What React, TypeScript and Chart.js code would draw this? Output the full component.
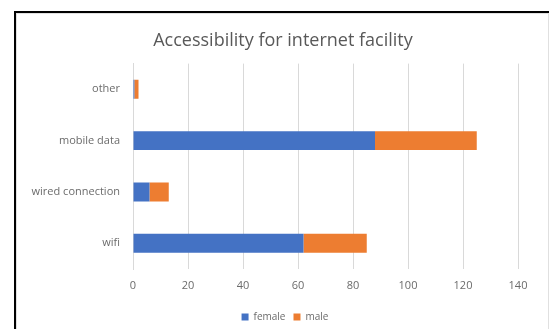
import React, { useEffect, useRef } from "react";
import { Chart, registerables } from "chart.js";

Chart.register(...registerables);

const categories = ["other", "mobile data", "wired connection", "wifi"];
const femaleValues = [0.5, 88, 6, 62];
const maleValues = [1.5, 37, 7, 23];
const xTicks = [0, 20, 40, 60, 80, 100, 120, 140];
const titleText = "Accessibility for internet facility";

const FONT = "'Open Sans', 'Liberation Sans', sans-serif";
const GRAY = "#6b6b6b";

const shiftBlocks = {
  id: "shiftBlocks",
  afterLayout(chart: any) {
    const t = chart.titleBlock;
    if (t) {
      t.left += 24;
      t.right += 24;
    }
    const l = chart.legend;
    if (l) {
      l.left += 26;
      l.right += 26;
      l.top += 7;
      l.bottom += 7;
    }
  },
};

export default function App() {
  const ref = useRef<HTMLCanvasElement | null>(null);

  useEffect(() => {
    if (!ref.current) return;
    const chart = new Chart(ref.current, {
      type: "bar",
      data: {
        labels: categories,
        datasets: [
          { label: "female", data: femaleValues, backgroundColor: "#4472C4", categoryPercentage: 1, barPercentage: 0.37 },
          { label: "male", data: maleValues, backgroundColor: "#ED7D31", categoryPercentage: 1, barPercentage: 0.37 },
        ],
      },
      options: {
        indexAxis: "y",
        responsive: false,
        animation: false,
        layout: { padding: { left: 0, right: 31, top: 0, bottom: 4 } },
        plugins: {
          title: {
            display: true,
            text: titleText,
            color: "#595959",
            font: { family: FONT, size: 18, weight: "normal" },
            padding: { top: 30, bottom: 12 },
          },
          legend: {
            position: "bottom",
            labels: {
              color: GRAY,
              font: { family: FONT, size: 10 },
              boxWidth: 7,
              boxHeight: 7,
              padding: 8,
            },
          },
          tooltip: { enabled: false },
        },
        scales: {
          x: {
            stacked: true,
            min: 0,
            max: 140,
            afterBuildTicks: (s: any) => {
              s.ticks = xTicks.map((v) => ({ value: v }));
            },
            afterFit: (s: any) => {
              s.height = 28;
            },
            grid: { color: "#d9d9d9", drawTicks: false },
            border: { display: false },
            ticks: { color: GRAY, font: { family: FONT, size: 11 }, padding: 10, maxRotation: 0 },
          },
          y: {
            stacked: true,
            afterFit: (s: any) => {
              s.width = 133;
            },
            grid: { display: false, drawTicks: false },
            border: { display: true, color: "#d9d9d9" },
            ticks: { color: GRAY, font: { family: FONT, size: 11 }, padding: 13 },
          },
        },
      },
      plugins: [shiftBlocks],
    });
    return () => chart.destroy();
  }, []);

  return (
    <div style={{ position: "fixed", left: 0, top: 0, width: 549, height: 329, background: "#fff", overflow: "hidden" }}>
      <div style={{ position: "absolute", left: 14, top: 11, width: 600, height: 400, borderLeft: "2px solid #000", borderTop: "2px solid #000" }} />
      <div style={{ position: "absolute", left: 16, top: 13, width: 531, height: 400, borderLeft: "1px solid #e0e0e0", borderTop: "1px solid #e0e0e0", borderRight: "1px solid #e0e0e0" }} />
      <canvas ref={ref} width={549} height={329} style={{ position: "absolute", left: 0, top: 0 }} />
    </div>
  );
}
